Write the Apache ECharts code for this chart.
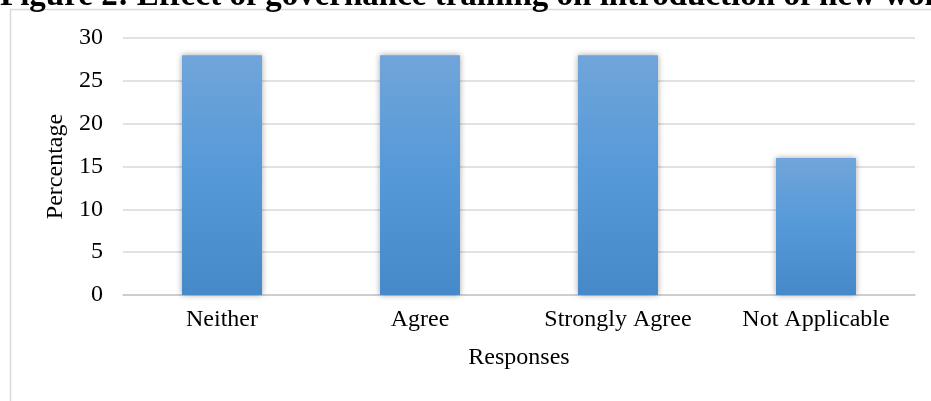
<!DOCTYPE html>
<html>
<head>
<meta charset="utf-8">
<script src="https://cdn.jsdelivr.net/npm/echarts@6/dist/echarts.min.js"></script>
<style>
html,body{margin:0;padding:0;background:#fff;}
#chart{width:931px;height:401px;}
</style>
</head>
<body>
<div id="chart"></div>
<script>
const titleText = 'Figure 2: Effect of governance training on introduction of new women';
const categories = ['Neither', 'Agree', 'Strongly Agree', 'Not Applicable'];
const values = [28, 28, 28, 16];
const yTicks = { min: 0, max: 30, interval: 5 };
const xAxisTitle = 'Responses';
const yAxisTitle = 'Percentage';

const chart = echarts.init(document.getElementById('chart'), null, { renderer: 'canvas' });
const serif = '"Liberation Serif", "Times New Roman", serif';
chart.setOption({
  backgroundColor: '#ffffff',
  animation: false,
  graphic: [
    {
      type: 'rect',
      shape: { x: 10.5, y: 9.5, width: 1000, height: 600 },
      style: { fill: 'none', stroke: '#d9d9d9', lineWidth: 1.5 },
      silent: true, z: 0
    },
    {
      type: 'text',
      x: 0, y: -20,
      style: {
        text: titleText,
        font: 'bold 33px ' + serif,
        fill: '#000',
        verticalAlign: 'top'
      },
      z: 10
    }
  ],
  grid: { left: 123, right: 16, top: 38, bottom: 106 },
  xAxis: {
    type: 'category',
    data: categories,
    name: xAxisTitle,
    nameLocation: 'middle',
    nameGap: 51,
    nameTextStyle: { fontFamily: serif, fontSize: 24, color: '#000' },
    axisLine: { show: true, lineStyle: { color: '#c8c8c8', width: 1.5 } },
    axisTick: { show: false },
    axisLabel: { fontFamily: serif, fontSize: 24, color: '#000', margin: 13 }
  },
  yAxis: {
    type: 'value',
    min: yTicks.min, max: yTicks.max, interval: yTicks.interval,
    name: yAxisTitle,
    nameLocation: 'middle',
    nameGap: 51,
    nameTextStyle: { fontFamily: serif, fontSize: 24, color: '#000' },
    axisLine: { show: false },
    axisTick: { show: false },
    axisLabel: { fontFamily: serif, fontSize: 24, color: '#000', margin: 20 },
    splitLine: { lineStyle: { color: '#d9d9d9', width: 1.5 } }
  },
  series: [{
    type: 'bar',
    data: values,
    barWidth: '40.4%',
    itemStyle: {
      color: new echarts.graphic.LinearGradient(0, 0, 0, 1, [
        { offset: 0, color: '#70a5da' },
        { offset: 0.5, color: '#5599d8' },
        { offset: 1, color: '#4689c9' }
      ]),
      shadowBlur: 6,
      shadowColor: 'rgba(0,0,0,0.35)',
      shadowOffsetX: 0,
      shadowOffsetY: 0
    }
  }]
});
</script>
</body>
</html>
